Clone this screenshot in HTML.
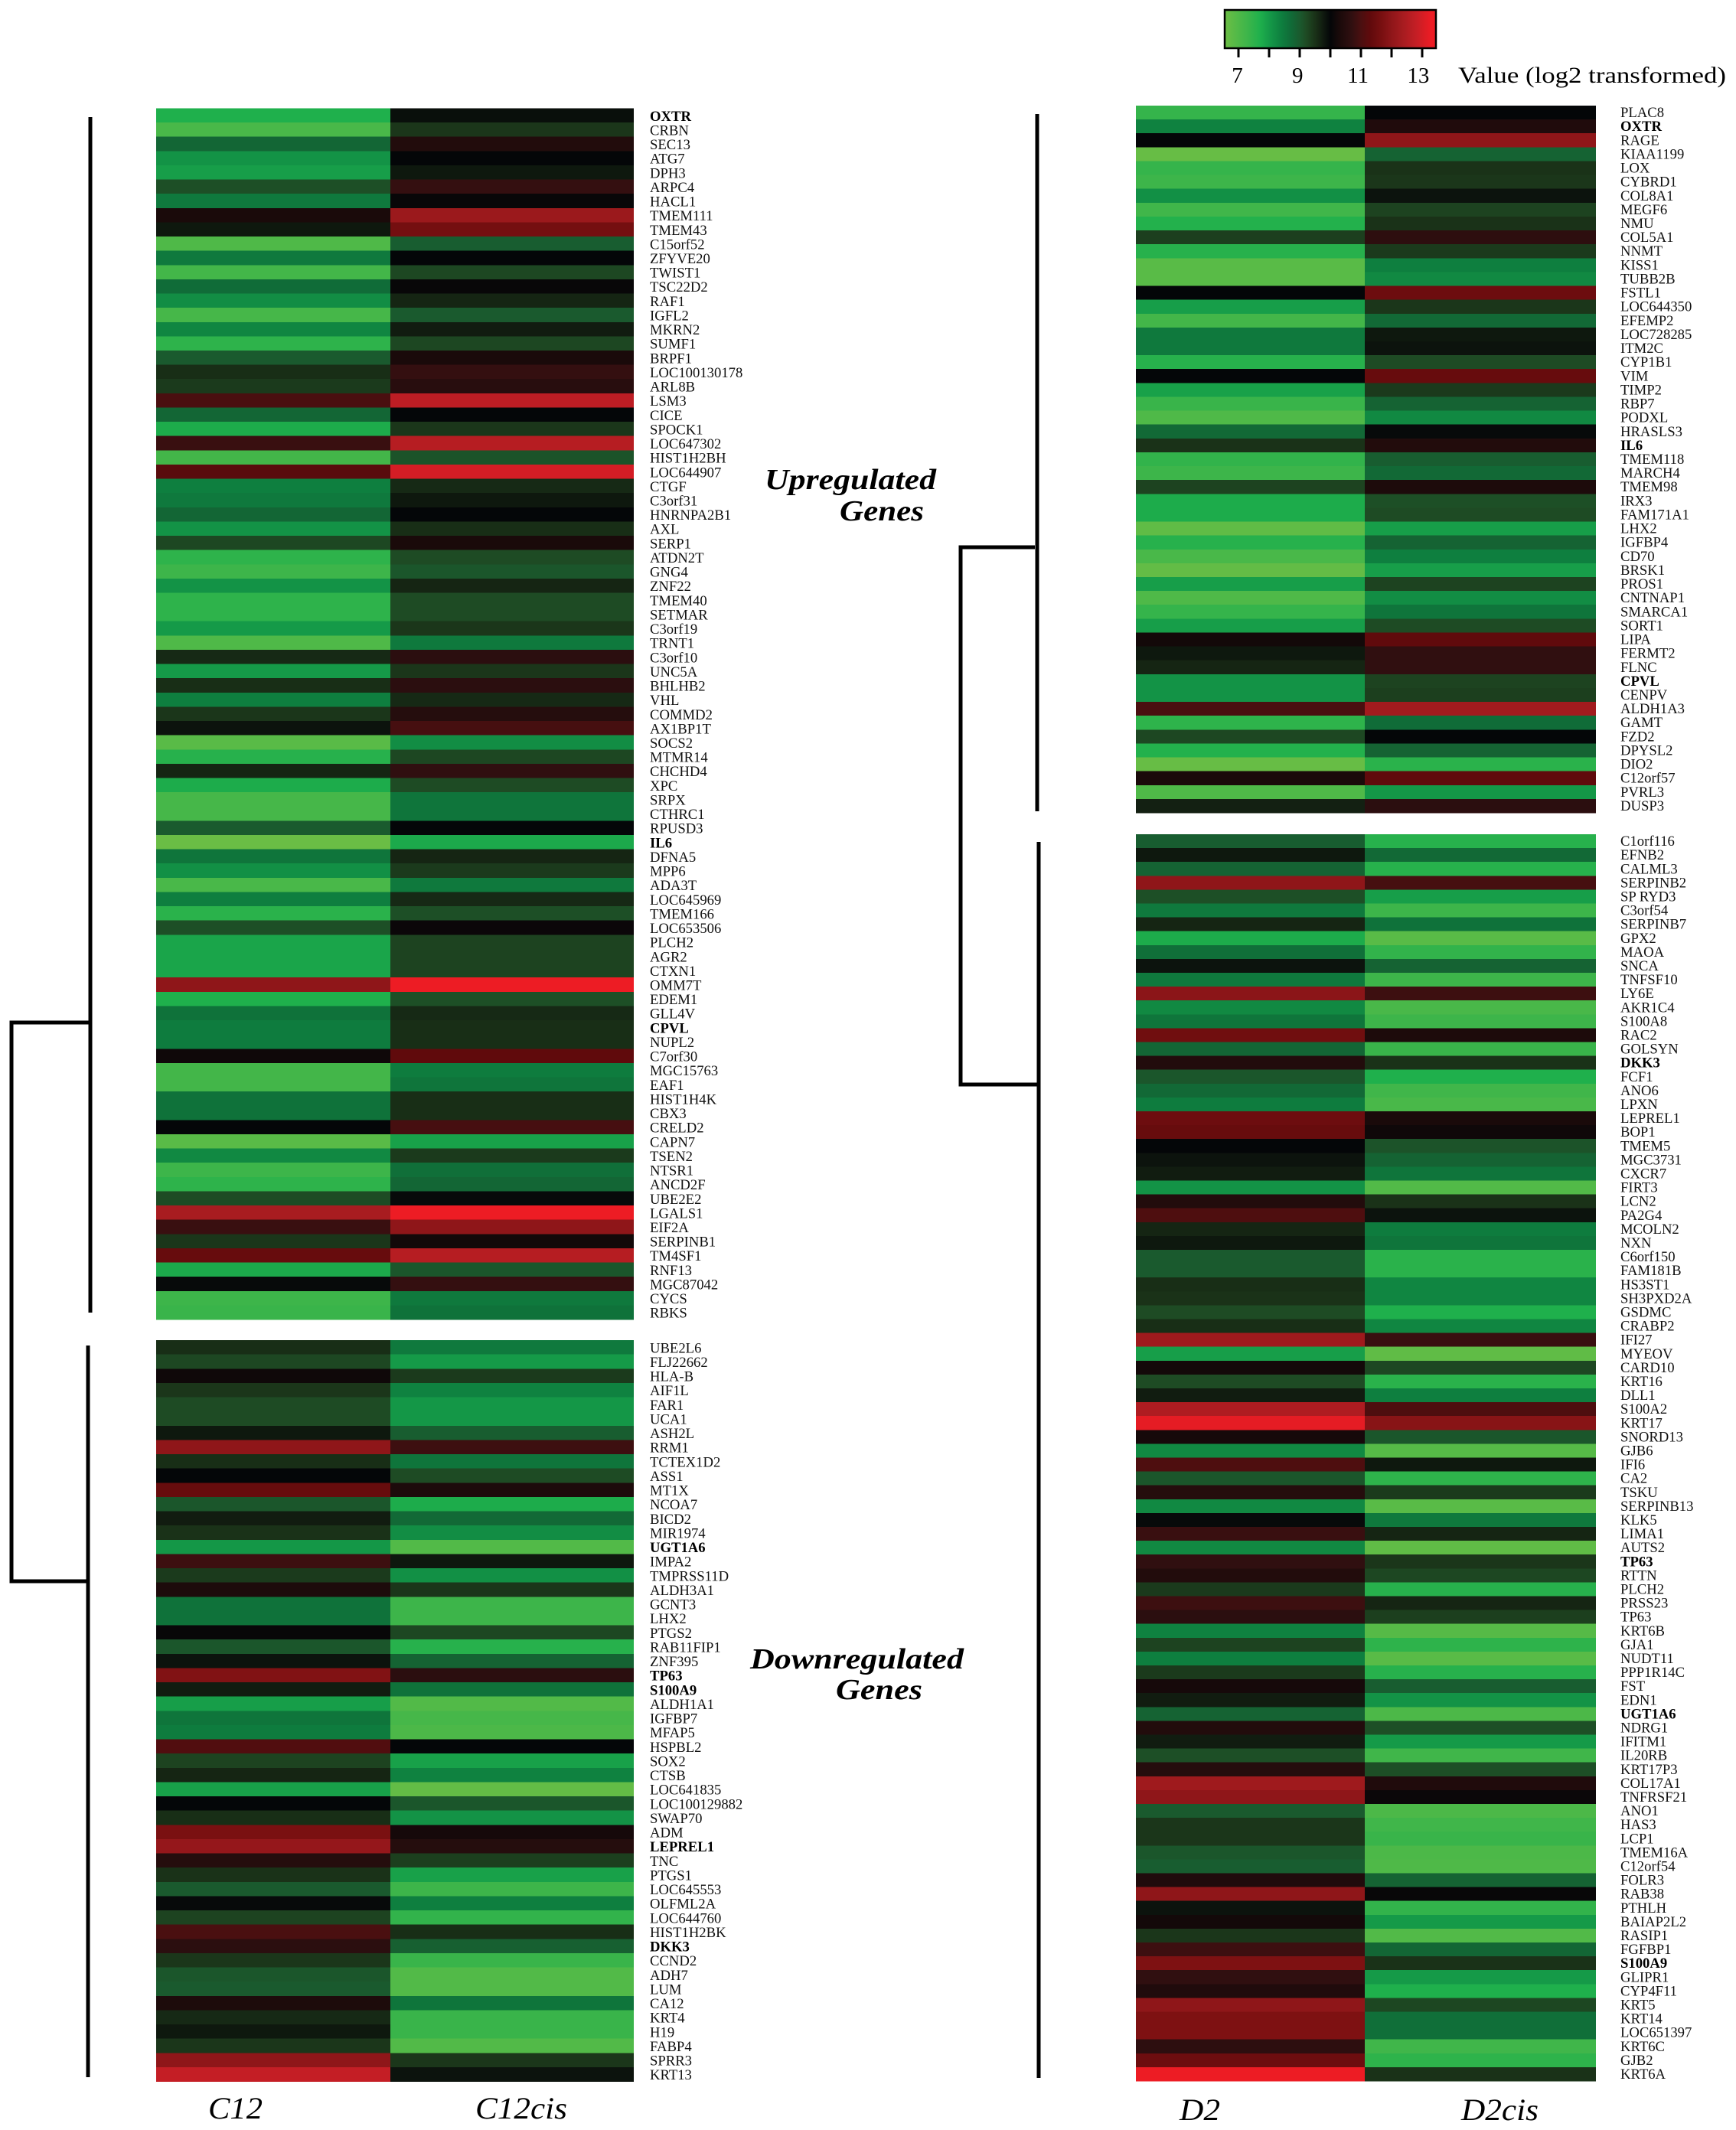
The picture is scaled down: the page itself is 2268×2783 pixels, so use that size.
<!DOCTYPE html>
<html lang="en">
<head>
<meta charset="utf-8">
<title>Gene expression heatmaps</title>
<style>
html,body{margin:0;padding:0;background:#fff;}
svg{display:block;font-family:"Liberation Serif",serif;}
.gene{font-size:18.5px;fill:#111;}
.gene.b{font-weight:bold;fill:#000;}
.group{font-size:38px;font-weight:bold;font-style:italic;fill:#000;}
.col{font-size:40px;font-style:italic;fill:#000;}
.tick{font-size:29px;fill:#000;text-anchor:middle;}
</style>
</head>
<body>
<svg id="chart" xmlns="http://www.w3.org/2000/svg" width="2268" height="2783" viewBox="0 0 2268 2783">
  <rect x="0" y="0" width="2268" height="2783" fill="#fff"/>
  <defs><linearGradient id="scaleGrad" x1="0" x2="1" y1="0" y2="0"></linearGradient></defs>
  <g stroke="#000" fill="none" stroke-width="5">
    <path d="M118 153V1715"/>
    <path d="M115 1758V2714"/>
    <path d="M116 1336H15V2066H115"/>
  </g>
  <g stroke="#000" fill="none" stroke-width="5">
    <path d="M1355 149V1060"/>
    <path d="M1357 1100V2715"/>
    <path d="M1352 715H1255V1417H1356"/>
  </g>
  <g id="panels" shape-rendering="crispEdges"></g>
  <g id="labels"></g>
  <g>
    <text class="group" x="999" y="639" textLength="224" lengthAdjust="spacingAndGlyphs">Upregulated</text>
    <text class="group" x="1097" y="680" textLength="110" lengthAdjust="spacingAndGlyphs">Genes</text>
    <text class="group" x="980" y="2180" textLength="279" lengthAdjust="spacingAndGlyphs">Downregulated</text>
    <text class="group" x="1092" y="2220" textLength="113" lengthAdjust="spacingAndGlyphs">Genes</text>
  </g>
  <g>
    <text class="col" x="272" y="2768" textLength="71" lengthAdjust="spacingAndGlyphs">C12</text>
    <text class="col" x="621" y="2768" textLength="120" lengthAdjust="spacingAndGlyphs">C12cis</text>
    <text class="col" x="1541" y="2770" textLength="53" lengthAdjust="spacingAndGlyphs">D2</text>
    <text class="col" x="1909" y="2770" textLength="101" lengthAdjust="spacingAndGlyphs">D2cis</text>
  </g>
  <g id="legend">
    <rect id="legendBar" x="1600" y="13" width="276" height="50" fill="url(#scaleGrad)" stroke="#000" stroke-width="2.5"/>
    <g id="legendTicks"></g>
    <text x="1905" y="108" font-size="30" fill="#000" textLength="350" lengthAdjust="spacingAndGlyphs">Value (log2 transformed)</text>
  </g>
</svg>
<script>
// ---- Data ----
const genesC12Up = ["OXTR","CRBN","SEC13","ATG7","DPH3","ARPC4","HACL1","TMEM111","TMEM43","C15orf52",
"ZFYVE20","TWIST1","TSC22D2","RAF1","IGFL2","MKRN2","SUMF1","BRPF1","LOC100130178","ARL8B",
"LSM3","CICE","SPOCK1","LOC647302","HIST1H2BH","LOC644907","CTGF","C3orf31","HNRNPA2B1","AXL",
"SERP1","ATDN2T","GNG4","ZNF22","TMEM40","SETMAR","C3orf19","TRNT1","C3orf10","UNC5A",
"BHLHB2","VHL","COMMD2","AX1BP1T","SOCS2","MTMR14","CHCHD4","XPC","SRPX","CTHRC1",
"RPUSD3","IL6","DFNA5","MPP6","ADA3T","LOC645969","TMEM166","LOC653506","PLCH2","AGR2",
"CTXN1","OMM7T","EDEM1","GLL4V","CPVL","NUPL2","C7orf30","MGC15763","EAF1","HIST1H4K",
"CBX3","CRELD2","CAPN7","TSEN2","NTSR1","ANCD2F","UBE2E2","LGALS1","EIF2A","SERPINB1",
"TM4SF1","RNF13","MGC87042","CYCS","RBKS"];
const valuesC12Up = [7.7,7.1,8.8,8.1,7.95,9.15,8.5,10.3,9.8,7.0,
8.5,7.2,8.7,8.2,7.15,8.3,7.5,9.0,9.55,9.4,
11.0,8.8,7.75,10.8,7.2,11.2,8.4,8.5,8.8,8.1,
9.25,7.5,7.3,8.1,7.5,7.5,8.0,7.0,9.6,8.0,
9.55,8.4,9.45,9.85,6.85,7.6,9.65,7.75,7.15,7.15,
9.0,6.6,8.55,8.15,7.1,8.4,7.55,9.15,7.85,7.85,
7.85,12.0,7.7,8.6,8.45,8.45,10.15,7.2,7.2,8.6,
8.6,10.0,6.85,8.25,7.3,7.5,9.2,12.4,10.8,9.45,
11.4,7.8,9.95,7.3,7.35];
const valuesC12cisUp = [9.9,9.45,10.45,10.0,9.8,10.75,10.05,12.2,11.6,8.95,
10.0,9.25,10.05,9.65,9.0,9.75,9.25,10.3,10.75,10.55,
12.7,10.0,9.45,12.6,9.1,13.0,9.6,9.8,10.0,9.55,
10.3,9.2,9.05,9.65,9.2,9.2,9.45,8.5,10.6,9.45,
10.6,9.6,10.5,10.95,8.2,9.25,10.7,9.2,8.55,8.55,
10.0,7.8,9.65,9.4,8.5,9.6,9.15,10.1,9.3,9.3,
9.3,13.4,9.15,9.6,9.55,9.55,11.3,8.45,8.55,9.55,
9.55,10.95,7.9,9.4,8.65,8.8,9.95,13.4,12.0,10.2,
12.6,9.05,10.75,8.5,8.6];
const boldC12Up = ["OXTR","IL6","CPVL"];

const genesC12Down = ["UBE2L6","FLJ22662","HLA-B","AIF1L","FAR1","UCA1","ASH2L","RRM1","TCTEX1D2","ASS1",
"MT1X","NCOA7","BICD2","MIR1974","UGT1A6","IMPA2","TMPRSS11D","ALDH3A1","GCNT3","LHX2",
"PTGS2","RAB11FIP1","ZNF395","TP63","S100A9","ALDH1A1","IGFBP7","MFAP5","HSPBL2","SOX2",
"CTSB","LOC641835","LOC100129882","SWAP70","ADM","LEPREL1","TNC","PTGS1","LOC645553","OLFML2A",
"LOC644760","HIST1H2BK","DKK3","CCND2","ADH7","LUM","CA12","KRT4","H19","FABP4",
"SPRR3","KRT13"];
const valuesC12Down = [9.55,9.25,10.15,9.45,9.2,9.2,9.8,12.0,9.55,10.0,
11.4,9.05,9.75,9.5,8.05,10.85,9.4,10.35,8.6,8.6,
10.05,9.05,9.85,11.8,9.75,7.95,8.55,8.45,11.1,9.3,
9.65,7.9,10.0,9.55,11.7,12.1,10.5,9.5,9.0,9.95,
9.3,11.0,10.6,9.45,9.05,9.0,10.35,9.6,9.8,9.45,
12.0,12.8];
const valuesC12cisDown = [8.5,8.0,9.4,8.35,8.05,8.05,8.95,10.85,8.55,9.2,
10.35,7.75,8.75,8.2,6.95,9.8,8.15,9.45,7.3,7.3,
9.25,7.6,8.85,10.6,8.6,6.95,7.15,7.05,10.0,7.9,
8.35,6.7,9.05,8.1,10.25,10.5,9.35,7.9,7.3,8.4,
7.45,9.55,8.9,7.35,6.95,6.95,8.55,7.35,7.35,6.95,
9.45,9.85];
const boldC12Down = ["UGT1A6","TP63","S100A9","LEPREL1","DKK3"];

const genesD2Up = ["PLAC8","OXTR","RAGE","KIAA1199","LOX","CYBRD1","COL8A1","MEGF6","NMU","COL5A1",
"NNMT","KISS1","TUBB2B","FSTL1","LOC644350","EFEMP2","LOC728285","ITM2C","CYP1B1","VIM",
"TIMP2","RBP7","PODXL","HRASLS3","IL6","TMEM118","MARCH4","TMEM98","IRX3","FAM171A1",
"LHX2","IGFBP4","CD70","BRSK1","PROS1","CNTNAP1","SMARCA1","SORT1","LIPA","FERMT2",
"FLNC","CPVL","CENPV","ALDH1A3","GAMT","FZD2","DPYSL2","DIO2","C12orf57","PVRL3",
"DUSP3"];
const valuesD2Up = [7.4,8.35,10.0,6.65,7.4,7.3,8.15,7.25,7.65,9.35,
7.6,6.85,6.85,10.0,7.95,7.2,8.5,8.5,7.6,10.0,
7.9,7.35,7.0,8.75,9.5,7.45,7.3,9.3,7.75,7.75,
6.75,7.6,7.1,6.7,7.95,7.0,7.4,7.95,10.2,9.8,
9.65,8.1,8.1,11.0,7.5,9.25,7.65,6.65,10.3,7.0,
9.7];
const valuesD2cisUp = [10.0,10.4,12.0,8.85,9.5,9.45,9.85,9.3,9.5,10.65,
9.4,8.4,8.25,11.5,9.45,8.75,9.8,9.85,9.2,11.4,
9.4,8.85,8.25,9.95,10.45,8.95,8.75,10.35,9.15,9.2,
7.95,8.85,8.4,7.95,9.3,8.2,8.55,9.2,11.3,10.7,
10.7,9.3,9.35,12.3,8.7,10.0,8.85,7.55,11.3,8.05,
10.6];
const boldD2Up = ["OXTR","IL6","CPVL"];

const genesD2Down = ["C1orf116","EFNB2","CALML3","SERPINB2","SP RYD3","C3orf54","SERPINB7","GPX2","MAOA","SNCA",
"TNFSF10","LY6E","AKR1C4","S100A8","RAC2","GOLSYN","DKK3","FCF1","ANO6","LPXN",
"LEPREL1","BOP1","TMEM5","MGC3731","CXCR7","FIRT3","LCN2","PA2G4","MCOLN2","NXN",
"C6orf150","FAM181B","HS3ST1","SH3PXD2A","GSDMC","CRABP2","IFI27","MYEOV","CARD10","KRT16",
"DLL1","S100A2","KRT17","SNORD13","GJB6","IFI6","CA2","TSKU","SERPINB13","KLK5",
"LIMA1","AUTS2","TP63","RTTN","PLCH2","PRSS23","TP63 ","KRT6B","GJA1","NUDT11",
"PPP1R14C","FST","EDN1","UGT1A6","NDRG1","IFITM1","IL20RB","KRT17P3","COL17A1","TNFRSF21",
"ANO1","HAS3","LCP1","TMEM16A","C12orf54","FOLR3","RAB38","PTHLH","BAIAP2L2","RASIP1",
"FGFBP1","S100A9","GLIPR1","CYP4F11","KRT5","KRT14","LOC651397","KRT6C","GJB2","KRT6A"];
const valuesD2Down = [8.95,9.8,8.85,12.0,9.15,8.5,9.65,7.75,8.65,9.85,
8.5,11.95,8.25,8.55,11.55,8.8,10.45,9.05,8.75,8.45,
11.5,11.4,10.0,9.85,9.75,8.1,10.45,11.05,9.65,9.8,
9.0,9.0,9.55,9.5,9.2,9.55,12.25,7.95,10.2,9.2,
9.75,12.5,13.2,10.25,8.25,11.05,9.05,10.5,8.25,9.95,
10.8,8.25,10.7,10.45,9.4,10.85,10.6,8.35,9.3,8.4,
9.4,10.25,9.75,8.85,10.45,9.75,9.15,10.5,12.25,12.0,
9.0,9.45,9.45,9.05,8.95,10.4,12.0,9.85,10.2,9.45,
10.85,11.75,10.7,10.4,12.0,11.75,11.75,10.65,11.5,13.4];
const valuesD2cisDown = [7.6,8.75,7.6,10.95,7.95,7.3,8.6,6.85,7.45,8.85,
7.3,10.85,7.1,7.3,10.35,7.35,9.5,7.7,7.25,7.1,
10.3,10.15,9.1,8.85,8.55,6.95,9.5,9.85,8.45,8.55,
7.55,7.55,8.3,8.3,7.7,8.3,10.8,6.75,9.25,7.55,
8.4,11.05,11.9,9.05,6.9,9.8,7.5,9.4,6.85,8.5,
9.65,6.75,9.45,9.25,7.6,9.65,9.35,6.9,7.5,6.85,
7.6,8.95,8.1,7.05,9.15,8.0,7.25,9.15,10.4,10.1,
7.05,7.25,7.35,7.05,7.0,8.85,10.05,7.45,8.0,6.95,
8.8,9.5,8.0,7.7,9.25,8.65,8.65,7.25,7.5,9.5];
const boldD2Down = ["DKK3","TP63","UGT1A6","S100A9"];

const legendTickValues = [7,8,9,10,11,12,13];
const legendTickLabels = ["7","","9","","11","","13"];

// ---- Colour scale ----
const colorStops = [
[6.6,"#6abd45"],[7.0,"#4fb948"],[7.3,"#3db54a"],[7.7,"#1fb04c"],[8.0,"#159a48"],
[8.4,"#0e7f3f"],[8.7,"#106c38"],[9.0,"#1a5a2e"],[9.2,"#1e4b24"],[9.5,"#1a3218"],
[9.75,"#111c10"],[10.0,"#040608"],[10.3,"#1a0a0a"],[10.7,"#300f10"],[11.0,"#4a0f10"],
[11.3,"#600a0c"],[11.7,"#7a1011"],[12.0,"#8f1619"],[12.4,"#a81c20"],[12.8,"#c41e25"],[13.3,"#ed1c24"]];
function hexRgb(h){return [1,3,5].map(function(i){return parseInt(h.substr(i,2),16);});}
function colorFor(v){
  if(v<=colorStops[0][0])return colorStops[0][1];
  for(var i=1;i<colorStops.length;i++){
    if(v<=colorStops[i][0]){
      var a=colorStops[i-1],b=colorStops[i],t=(v-a[0])/(b[0]-a[0]);
      var ca=hexRgb(a[1]),cb=hexRgb(b[1]);
      return "rgb("+ca.map(function(c,k){return Math.round(c+(cb[k]-c)*t);}).join(",")+")";
    }
  }
  return colorStops[colorStops.length-1][1];
}

// ---- Drawing ----
const NS="http://www.w3.org/2000/svg";
const panelsG=document.getElementById("panels");
const labelsG=document.getElementById("labels");

function drawPanel(name,genes,colA,colB,bold,box){
  const rowH=(box.bottom-box.top)/genes.length;
  const yAxis=function(i){return box.top+i*rowH;};
  const g=document.createElementNS(NS,"g");
  
  
  [[colA,box.x0,box.x1,"a"],[colB,box.x1,box.x2,"b"]].forEach(function(col){
    col[0].forEach(function(v,i){
      const r=document.createElementNS(NS,"rect");
      r.setAttribute("x",col[1]);
      r.setAttribute("y",yAxis(i));
      r.setAttribute("width",col[2]-col[1]);
      r.setAttribute("height",rowH+0.5);
      r.setAttribute("fill",colorFor(v));
      
      
      g.appendChild(r);
    });
  });
  panelsG.appendChild(g);
  genes.forEach(function(gene,i){
    const t=document.createElementNS(NS,"text");
    t.textContent=gene.trim();
    const isBold=bold.indexOf(gene)>=0;
    t.setAttribute("class",isBold?"gene b":"gene");
    t.setAttribute("transform","translate("+box.labelX+" "+(yAxis(i)+rowH/2+box.labelDy)+") scale(1.01 1)");
    
    
    labelsG.appendChild(t);
  });
}

drawPanel("heatmap-c12-upregulated",genesC12Up,valuesC12Up,valuesC12cisUp,boldC12Up,
  {top:141.5,bottom:1724,x0:204,x1:510,x2:828,labelX:849,labelDy:7});
drawPanel("heatmap-c12-downregulated",genesC12Down,valuesC12Down,valuesC12cisDown,boldC12Down,
  {top:1751,bottom:2719.5,x0:204,x1:510,x2:828,labelX:849,labelDy:7});
drawPanel("heatmap-d2-upregulated",genesD2Up,valuesD2Up,valuesD2cisUp,boldD2Up,
  {top:138,bottom:1062,x0:1484,x1:1783,x2:2085,labelX:2117,labelDy:6});
drawPanel("heatmap-d2-downregulated",genesD2Down,valuesD2Down,valuesD2cisDown,boldD2Down,
  {top:1090,bottom:2719,x0:1484,x1:1783,x2:2085,labelX:2117,labelDy:6});

// ---- Legend ----
const legendAxis=function(v){return 1618+(v-7)*40;};
const grad=document.getElementById("scaleGrad");
const barMin=6.55,barMax=13.45;
colorStops.forEach(function(s){
  const st=document.createElementNS(NS,"stop");
  st.setAttribute("offset",((s[0]-barMin)/(barMax-barMin)*100)+"%");
  st.setAttribute("stop-color",s[1]);
  grad.appendChild(st);
});
const ticksG=document.getElementById("legendTicks");
legendTickValues.forEach(function(v,i){
  const l=document.createElementNS(NS,"line");
  l.setAttribute("x1",legendAxis(v));
  l.setAttribute("x2",legendAxis(v));
  l.setAttribute("y1",63);
  l.setAttribute("y2",75);
  l.setAttribute("stroke","#000");
  l.setAttribute("stroke-width",3);
  
  
  ticksG.appendChild(l);
  if(legendTickLabels[i]){
    const t=document.createElementNS(NS,"text");
    t.textContent=legendTickLabels[i];
    t.setAttribute("class","tick");
    t.setAttribute("x",legendAxis(v)-(v-7)*0.6-1.5);
    t.setAttribute("y",108);
    
    
    ticksG.appendChild(t);
  }
});
</script>
</body>
</html>
